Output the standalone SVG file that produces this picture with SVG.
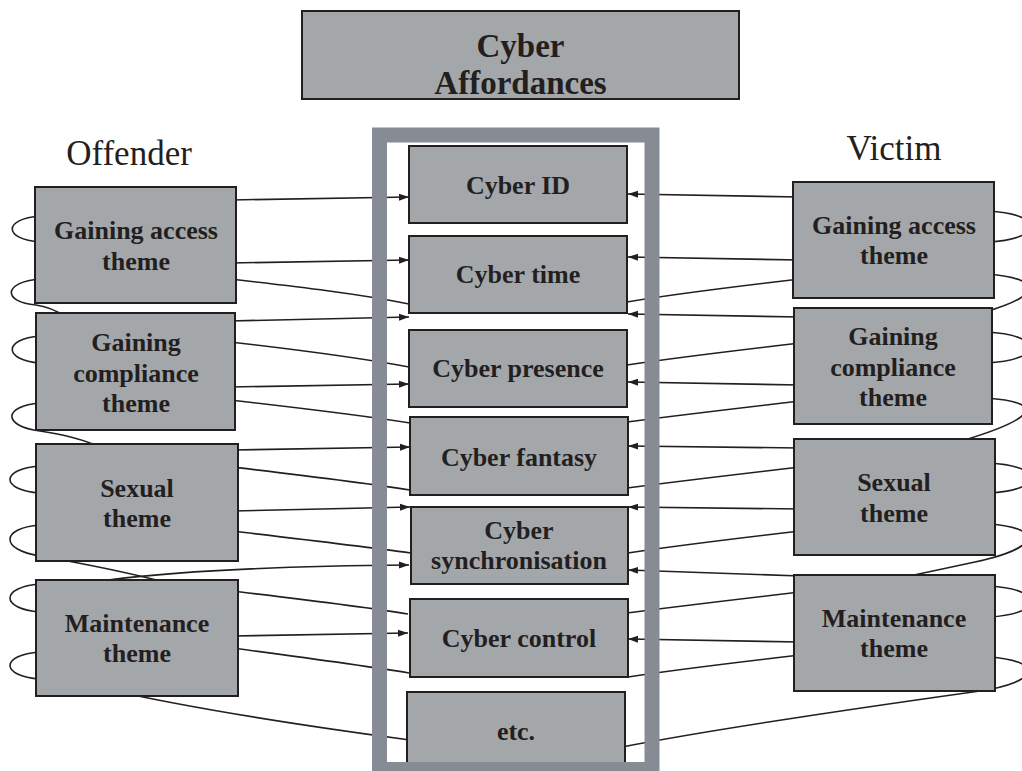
<svg xmlns="http://www.w3.org/2000/svg" width="1022" height="771" viewBox="0 0 1022 771">
  <style>
    .box { fill: #a4a7aa; stroke: #231f20; stroke-width: 2; }
    .lbl { font-family: "Liberation Serif", "Times New Roman", serif; font-weight: bold; font-size: 26px; fill: #231f20; text-anchor: middle; }
    .title { font-family: "Liberation Serif", "Times New Roman", serif; font-weight: bold; font-size: 33px; fill: #231f20; text-anchor: middle; }
    .side { font-family: "Liberation Serif", "Times New Roman", serif; font-size: 35px; fill: #231f20; text-anchor: middle; }
    .c { fill: none; stroke: #231f20; stroke-width: 1.6; }
    .a { marker-end: url(#head); }
    .frame { fill: none; stroke: #878b94; stroke-width: 15; }
  </style>
  <defs>
    <marker id="head" markerUnits="userSpaceOnUse" markerWidth="11" markerHeight="8" refX="10" refY="4" orient="auto">
      <path d="M0,0.5 L10,4 L0,7.5 z" fill="#231f20"/>
    </marker>
  </defs>
  <rect width="1022" height="771" fill="#ffffff"/>

  <!-- connectors -->
  <g id="connectors">
    <!-- offender loops -->
    <path class="c" d="M40,216 C3,219 3,239 40,242"/>
    <path class="c" d="M40,279 C3,282 2,302 36,305 C48,307 56,310 64,316"/>
    <path class="c" d="M40,336 C3,339 3,360 40,363"/>
    <path class="c" d="M40,403 C3,406 2,426 40,431 C60,434 80,438 100,447"/>
    <path class="c" d="M40,466 C0,469 0,490 40,493"/>
    <path class="c" d="M40,525 C0,528 0,550 40,556 C80,563 130,573 168,583"/>
    <path class="c" d="M40,584 C0,587 0,609 40,612"/>
    <path class="c" d="M40,652 C0,655 0,676 40,679"/>
    <!-- offender to affordances -->
    <path class="c a" d="M230,200 L409,197"/>
    <path class="c a" d="M230,263 L409,260"/>
    <path class="c" d="M230,279 C300,287 360,294 409,304"/>
    <path class="c a" d="M230,321 L409,317"/>
    <path class="c" d="M230,342 C300,350 360,358 409,367"/>
    <path class="c a" d="M230,387 L409,384"/>
    <path class="c" d="M230,400 C300,408 360,415 410,423"/>
    <path class="c a" d="M232,450 L410,447"/>
    <path class="c" d="M232,467 C300,475 360,482 410,490"/>
    <path class="c a" d="M232,511 L410,507"/>
    <path class="c" d="M232,531 C300,539 360,546 411,553"/>
    <path class="c a" d="M55,590 C120,572 280,566 409,565"/>
    <path class="c" d="M232,591 C300,599 360,606 408,614"/>
    <path class="c a" d="M232,636 L408,633"/>
    <path class="c" d="M232,648 C300,657 360,665 409,673"/>
    <path class="c" d="M110,690 C200,710 320,728 410,740"/>
    <!-- victim loops -->
    <path class="c" d="M988,211 C1045,214 1045,239 988,242"/>
    <path class="c" d="M988,274 C1045,279 1040,296 985,312"/>
    <path class="c" d="M986,332 C1045,335 1045,360 986,363"/>
    <path class="c" d="M986,398 C1045,402 1040,418 958,442"/>
    <path class="c" d="M989,463 C1045,466 1045,490 989,493"/>
    <path class="c" d="M989,524 C1045,528 1040,548 975,562 L900,578"/>
    <path class="c" d="M989,586 C1045,589 1045,614 989,617"/>
    <path class="c" d="M989,657 C1045,661 1040,682 980,691 C880,705 720,728 622,747"/>
    <!-- victim to affordances -->
    <path class="c a" d="M800,197 L628,194"/>
    <path class="c a" d="M800,260 L628,257"/>
    <path class="c" d="M800,279 C740,286 680,293 627,302"/>
    <path class="c a" d="M800,317 L628,314"/>
    <path class="c" d="M800,343 C740,350 680,357 627,365"/>
    <path class="c a" d="M800,385 L628,382"/>
    <path class="c" d="M800,401 C740,408 680,415 627,422"/>
    <path class="c a" d="M800,448 L628,446"/>
    <path class="c" d="M800,467 C740,474 680,481 627,488"/>
    <path class="c a" d="M800,509 L628,507"/>
    <path class="c" d="M800,531 C740,538 680,545 628,553"/>
    <path class="c a" d="M800,576 L628,570"/>
    <path class="c" d="M800,592 C740,599 680,606 627,613"/>
    <path class="c a" d="M800,642 L628,639"/>
    <path class="c" d="M800,655 C740,662 680,669 628,677"/>
  </g>

  <!-- heading -->
  <g id="cyber-affordances">
    <rect class="box" x="302" y="11" width="437" height="88"/>
    <text class="title" x="520.5" y="57">Cyber</text>
    <text class="title" x="520.5" y="94">Affordances</text>
  </g>
  <g id="offender-label"><text class="side" x="129" y="165">Offender</text></g>
  <g id="victim-label"><text class="side" x="894" y="160">Victim</text></g>

  <!-- offender themes -->
  <g id="off-access">
    <rect class="box" x="35" y="187" width="201" height="116"/>
    <text class="lbl" x="136" y="239">Gaining access</text>
    <text class="lbl" x="136" y="270">theme</text>
  </g>
  <g id="off-compliance">
    <rect class="box" x="36" y="313" width="199" height="117"/>
    <text class="lbl" x="136" y="351">Gaining</text>
    <text class="lbl" x="136" y="382">compliance</text>
    <text class="lbl" x="136" y="412">theme</text>
  </g>
  <g id="off-sexual">
    <rect class="box" x="36" y="444" width="202" height="117"/>
    <text class="lbl" x="137" y="497">Sexual</text>
    <text class="lbl" x="137" y="527">theme</text>
  </g>
  <g id="off-maintenance">
    <rect class="box" x="36" y="580" width="202" height="116"/>
    <text class="lbl" x="137" y="632">Maintenance</text>
    <text class="lbl" x="137" y="662">theme</text>
  </g>

  <!-- affordances -->
  <g id="cyber-id">
    <rect class="box" x="409" y="146" width="218" height="77"/>
    <text class="lbl" x="518" y="194">Cyber ID</text>
  </g>
  <g id="cyber-time">
    <rect class="box" x="409" y="236" width="218" height="77"/>
    <text class="lbl" x="518" y="283">Cyber time</text>
  </g>
  <g id="cyber-presence">
    <rect class="box" x="409" y="330" width="218" height="77"/>
    <text class="lbl" x="518" y="377">Cyber presence</text>
  </g>
  <g id="cyber-fantasy">
    <rect class="box" x="410" y="417" width="218" height="78"/>
    <text class="lbl" x="519" y="466">Cyber fantasy</text>
  </g>
  <g id="cyber-sync">
    <rect class="box" x="411" y="507" width="217" height="77"/>
    <text class="lbl" x="519" y="539">Cyber</text>
    <text class="lbl" x="519" y="569">synchronisation</text>
  </g>
  <g id="cyber-control">
    <rect class="box" x="410" y="599" width="218" height="78"/>
    <text class="lbl" x="519" y="647">Cyber control</text>
  </g>
  <g id="cyber-etc">
    <rect class="box" x="407" y="692" width="218" height="90"/>
    <text class="lbl" x="516" y="740">etc.</text>
  </g>

  <!-- victim themes -->
  <g id="vic-access">
    <rect class="box" x="793" y="182" width="201" height="116"/>
    <text class="lbl" x="894" y="234">Gaining access</text>
    <text class="lbl" x="894" y="264">theme</text>
  </g>
  <g id="vic-compliance">
    <rect class="box" x="794" y="308" width="198" height="116"/>
    <text class="lbl" x="893" y="345">Gaining</text>
    <text class="lbl" x="893" y="376">compliance</text>
    <text class="lbl" x="893" y="406">theme</text>
  </g>
  <g id="vic-sexual">
    <rect class="box" x="794" y="439" width="201" height="116"/>
    <text class="lbl" x="894" y="491">Sexual</text>
    <text class="lbl" x="894" y="522">theme</text>
  </g>
  <g id="vic-maintenance">
    <rect class="box" x="794" y="575" width="201" height="116"/>
    <text class="lbl" x="894" y="627">Maintenance</text>
    <text class="lbl" x="894" y="657">theme</text>
  </g>

  <!-- grey frame round the affordance column -->
  <rect class="frame" x="379.5" y="135" width="272.5" height="634.5"/>
</svg>
